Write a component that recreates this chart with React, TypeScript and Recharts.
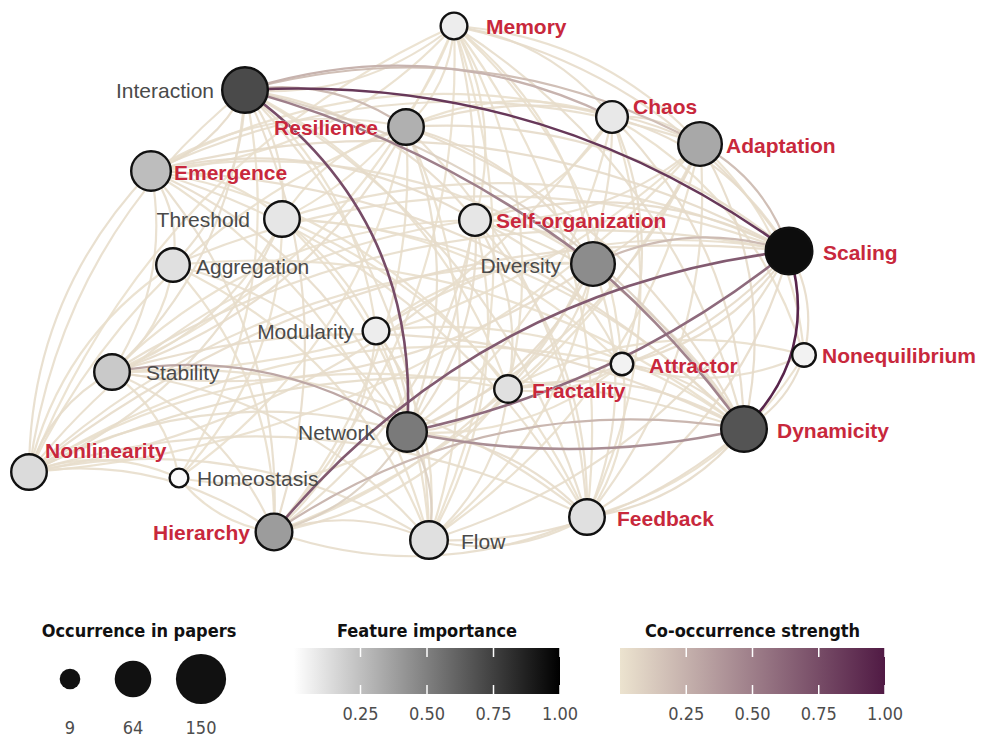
import { ScatterChart, Scatter, XAxis, YAxis } from "recharts";

// concept nodes (layout position, occurrence count, feature importance)
const nodeNames = [
  "Memory", "Interaction", "Chaos", "Resilience", "Adaptation", "Emergence",
  "Threshold", "Self-organization", "Scaling", "Diversity", "Aggregation",
  "Modularity", "Nonequilibrium", "Stability", "Attractor", "Fractality",
  "Network", "Dynamicity", "Nonlinearity", "Homeostasis", "Feedback",
  "Hierarchy", "Flow",
];
const nodeX = [454, 245, 612, 406, 700, 151, 282, 475, 789, 593, 173, 376, 804, 112, 622, 508, 407, 744, 29, 179, 587, 274, 429];
const nodeY = [26, 90, 117, 127, 144, 171, 219, 220, 251, 264, 265, 331, 355, 372, 364, 389, 432, 429, 472, 478, 517, 532, 540];
const occurrence = [32, 134, 52, 71, 120, 94, 71, 52, 141, 120, 61, 32, 22, 71, 19, 35, 94, 134, 71, 10, 71, 77, 82];
const importance = [0.07, 0.71, 0.09, 0.31, 0.34, 0.26, 0.1, 0.1, 0.95, 0.45, 0.12, 0.07, 0.05, 0.21, 0.05, 0.12, 0.52, 0.67, 0.14, 0.02, 0.12, 0.39, 0.12];
const keyFeature = [true, false, true, true, true, true, false, true, true, false, false, false, true, false, true, true, false, true, true, false, true, true, false];

// co-occurrence links: [from, to, strength]
const edges: [string, string, number][] = [
  ["Memory", "Interaction", 0.025], ["Memory", "Emergence", 0.02], ["Memory", "Chaos", 0.03],
  ["Memory", "Adaptation", 0.025], ["Memory", "Scaling", 0.035], ["Memory", "Resilience", 0.02],
  ["Memory", "Self-organization", 0.02], ["Memory", "Diversity", 0.02], ["Memory", "Network", 0.025],
  ["Memory", "Dynamicity", 0.03], ["Nonlinearity", "Memory", 0.015], ["Memory", "Stability", 0.015],
  ["Memory", "Feedback", 0.02], ["Memory", "Hierarchy", 0.015], ["Memory", "Flow", 0.015],
  ["Memory", "Threshold", 0.015], ["Memory", "Fractality", 0.02], ["Memory", "Attractor", 0.02],
  ["Interaction", "Emergence", 0.045], ["Interaction", "Adaptation", 0.18], ["Interaction", "Dynamicity", 0.1],
  ["Interaction", "Self-organization", 0.035], ["Interaction", "Threshold", 0.025], ["Interaction", "Aggregation", 0.025],
  ["Interaction", "Stability", 0.03], ["Nonlinearity", "Interaction", 0.025], ["Interaction", "Feedback", 0.03],
  ["Interaction", "Hierarchy", 0.035], ["Interaction", "Flow", 0.025], ["Interaction", "Modularity", 0.02],
  ["Interaction", "Fractality", 0.02], ["Interaction", "Homeostasis", 0.015],
  ["Chaos", "Adaptation", 0.03], ["Chaos", "Scaling", 0.035], ["Chaos", "Dynamicity", 0.035],
  ["Chaos", "Nonlinearity", 0.025], ["Emergence", "Chaos", 0.02], ["Chaos", "Attractor", 0.03],
  ["Chaos", "Fractality", 0.025], ["Chaos", "Self-organization", 0.02], ["Chaos", "Feedback", 0.02],
  ["Chaos", "Nonequilibrium", 0.02], ["Resilience", "Chaos", 0.02], ["Chaos", "Network", 0.02],
  ["Resilience", "Adaptation", 0.035], ["Resilience", "Scaling", 0.045], ["Resilience", "Stability", 0.035],
  ["Resilience", "Diversity", 0.035], ["Resilience", "Network", 0.03], ["Resilience", "Dynamicity", 0.035],
  ["Resilience", "Feedback", 0.025], ["Threshold", "Resilience", 0.02], ["Emergence", "Resilience", 0.025],
  ["Resilience", "Hierarchy", 0.02], ["Resilience", "Flow", 0.02], ["Resilience", "Homeostasis", 0.015],
  ["Nonlinearity", "Resilience", 0.02],
  ["Adaptation", "Dynamicity", 0.045], ["Adaptation", "Diversity", 0.035], ["Emergence", "Adaptation", 0.03],
  ["Adaptation", "Network", 0.03], ["Adaptation", "Self-organization", 0.03], ["Adaptation", "Feedback", 0.025],
  ["Adaptation", "Nonlinearity", 0.02], ["Adaptation", "Hierarchy", 0.02], ["Adaptation", "Nonequilibrium", 0.02],
  ["Adaptation", "Stability", 0.02], ["Adaptation", "Flow", 0.02],
  ["Emergence", "Self-organization", 0.045], ["Emergence", "Scaling", 0.045], ["Emergence", "Network", 0.035],
  ["Emergence", "Dynamicity", 0.035], ["Nonlinearity", "Emergence", 0.03], ["Emergence", "Stability", 0.025],
  ["Emergence", "Aggregation", 0.025], ["Emergence", "Hierarchy", 0.03], ["Emergence", "Threshold", 0.02],
  ["Emergence", "Diversity", 0.025], ["Emergence", "Feedback", 0.025], ["Emergence", "Flow", 0.02],
  ["Emergence", "Fractality", 0.02],
  ["Threshold", "Scaling", 0.025], ["Threshold", "Nonlinearity", 0.03], ["Threshold", "Stability", 0.025],
  ["Threshold", "Dynamicity", 0.025], ["Threshold", "Network", 0.02], ["Threshold", "Feedback", 0.02],
  ["Threshold", "Flow", 0.02], ["Threshold", "Attractor", 0.015], ["Threshold", "Homeostasis", 0.015],
  ["Self-organization", "Scaling", 0.045], ["Self-organization", "Network", 0.035], ["Self-organization", "Dynamicity", 0.04],
  ["Nonlinearity", "Self-organization", 0.025], ["Self-organization", "Fractality", 0.03], ["Self-organization", "Attractor", 0.025],
  ["Self-organization", "Diversity", 0.025], ["Self-organization", "Feedback", 0.025], ["Self-organization", "Hierarchy", 0.025],
  ["Self-organization", "Flow", 0.02], ["Stability", "Self-organization", 0.02],
  ["Scaling", "Fractality", 0.045], ["Scaling", "Attractor", 0.035], ["Scaling", "Nonequilibrium", 0.035],
  ["Nonlinearity", "Scaling", 0.035], ["Stability", "Scaling", 0.03], ["Scaling", "Feedback", 0.035],
  ["Scaling", "Flow", 0.03], ["Aggregation", "Scaling", 0.025], ["Modularity", "Scaling", 0.025],
  ["Diversity", "Network", 0.045], ["Diversity", "Stability", 0.035], ["Nonlinearity", "Diversity", 0.025],
  ["Diversity", "Feedback", 0.025], ["Diversity", "Hierarchy", 0.025], ["Diversity", "Flow", 0.02],
  ["Modularity", "Diversity", 0.02], ["Diversity", "Fractality", 0.025],
  ["Aggregation", "Network", 0.025], ["Nonlinearity", "Aggregation", 0.02], ["Aggregation", "Stability", 0.02],
  ["Aggregation", "Hierarchy", 0.02], ["Aggregation", "Flow", 0.02], ["Aggregation", "Dynamicity", 0.02],
  ["Modularity", "Network", 0.03], ["Modularity", "Hierarchy", 0.025], ["Modularity", "Flow", 0.02],
  ["Modularity", "Dynamicity", 0.02],
  ["Nonequilibrium", "Dynamicity", 0.045], ["Nonequilibrium", "Attractor", 0.025], ["Fractality", "Nonequilibrium", 0.02],
  ["Nonequilibrium", "Feedback", 0.02],
  ["Nonlinearity", "Stability", 0.03], ["Stability", "Dynamicity", 0.035], ["Stability", "Feedback", 0.025],
  ["Stability", "Hierarchy", 0.025], ["Stability", "Flow", 0.025], ["Stability", "Homeostasis", 0.02],
  ["Attractor", "Dynamicity", 0.035], ["Attractor", "Fractality", 0.025], ["Nonlinearity", "Attractor", 0.02],
  ["Attractor", "Feedback", 0.02], ["Attractor", "Network", 0.02],
  ["Fractality", "Network", 0.035], ["Fractality", "Dynamicity", 0.035], ["Fractality", "Hierarchy", 0.025],
  ["Fractality", "Flow", 0.025], ["Nonlinearity", "Fractality", 0.02],
  ["Network", "Hierarchy", 0.1], ["Network", "Feedback", 0.035], ["Nonlinearity", "Network", 0.03],
  ["Network", "Homeostasis", 0.02], ["Network", "Flow", 0.1],
  ["Nonlinearity", "Dynamicity", 0.04], ["Dynamicity", "Feedback", 0.045], ["Dynamicity", "Flow", 0.035],
  ["Nonlinearity", "Feedback", 0.03], ["Nonlinearity", "Hierarchy", 0.025], ["Nonlinearity", "Flow", 0.025],
  ["Nonlinearity", "Homeostasis", 0.02],
  ["Feedback", "Hierarchy", 0.03], ["Feedback", "Flow", 0.03],
  ["Hierarchy", "Flow", 0.035], ["Hierarchy", "Homeostasis", 0.02],
  // stronger links
  ["Interaction", "Chaos", 0.24], ["Interaction", "Resilience", 0.2], ["Diversity", "Scaling", 0.2],
  ["Adaptation", "Scaling", 0.18], ["Hierarchy", "Dynamicity", 0.22], ["Stability", "Network", 0.3],
  ["Dynamicity", "Network", 0.42], ["Diversity", "Dynamicity", 0.48], ["Interaction", "Diversity", 0.5],
  ["Scaling", "Network", 0.6], ["Hierarchy", "Scaling", 0.68], ["Interaction", "Network", 0.75],
  ["Interaction", "Scaling", 0.85], ["Scaling", "Dynamicity", 0.95],
];

const sizeBreaks = [9, 64, 150];
const scaleTicks = [0.25, 0.5, 0.75, 1.0];

// label offset from node centre [dx, dy]; negative dx = label on the left
const LABEL_POS: Record<string, [number, number]> = {
  Memory: [32, 0], Interaction: [-31, 0], Chaos: [21, -11], Resilience: [-28, 0],
  Adaptation: [26, 1], Emergence: [23, 1], Threshold: [-32, 0], "Self-organization": [21, 0],
  Scaling: [34, 1], Diversity: [-32, 1], Aggregation: [23, 1], Modularity: [-22, 0],
  Nonequilibrium: [18, 0], Stability: [34, 0], Attractor: [27, 1], Fractality: [24, 1],
  Network: [-32, 0], Dynamicity: [33, 1], Nonlinearity: [16, -22], Homeostasis: [18, 0],
  Feedback: [30, 1], Hierarchy: [-24, 0], Flow: [32, 1],
};

// arc curvature for the strong links (others use BEND)
const EDGE_BEND: Record<string, number> = {
  "Interaction|Diversity": 0.05,
  "Interaction|Scaling": 0.09,
  "Interaction|Network": 0.14,
  "Scaling|Dynamicity": 0.15,
  "Hierarchy|Scaling": 0.1,
  "Scaling|Network": 0.06,
  "Dynamicity|Network": 0.055,
  "Diversity|Dynamicity": 0.03,
};

const W = 983;
const NET_H = 590;
const BEND = 0.1;
const LABEL_FONT = "'Liberation Sans', Arial, sans-serif";
const LEGEND_FONT = "'DejaVu Sans Condensed', 'DejaVu Sans', sans-serif";
const RED = "#c8283c";

const radius = (occ: number) => 5.5 + 1.6 * Math.sqrt(occ);
const grayFill = (imp: number) => {
  const g = Math.round(255 * (1 - imp));
  return `rgb(${g},${g},${g})`;
};
const LOW = [236, 227, 207];
const HIGH = [80, 26, 68];
const edgeColor = (w: number) => {
  const c = LOW.map((l, i) => Math.round(l + (HIGH[i] - l) * w));
  return `rgb(${c[0]},${c[1]},${c[2]})`;
};

const nodes = nodeNames.map((name, i) => ({
  name,
  x: nodeX[i],
  y: nodeY[i],
  occ: occurrence[i],
  imp: importance[i],
  key: keyFeature[i],
}));

const sortedEdges = [...edges].sort((a, b) => a[2] - b[2]);
const edgePoints = sortedEdges.flatMap(([a, b, w]) => {
  const i = nodeNames.indexOf(a);
  const j = nodeNames.indexOf(b);
  return [
    { x: nodeX[i], y: nodeY[i], w },
    { x: nodeX[j], y: nodeY[j], w },
  ];
});

const renderEdges = (props: any) => {
  const pts = props.points || [];
  const out = [];
  for (let k = 0; k + 1 < pts.length; k += 2) {
    const p0 = pts[k];
    const p1 = pts[k + 1];
    const [a, b, w] = sortedEdges[k / 2];
    const bend = EDGE_BEND[`${a}|${b}`] ?? BEND;
    const dx = p1.x - p0.x;
    const dy = p1.y - p0.y;
    const qx = (p0.x + p1.x) / 2 + dy * bend * 2;
    const qy = (p0.y + p1.y) / 2 - dx * bend * 2;
    out.push(
      <path
        key={k}
        d={`M${p0.x},${p0.y}Q${qx},${qy} ${p1.x},${p1.y}`}
        fill="none"
        stroke={edgeColor(w)}
        strokeWidth={w > 0.3 ? 2.6 : 2.2}
        strokeOpacity={w > 0.15 ? 1 : 0.9}
      />
    );
  }
  return <g>{out}</g>;
};

const NodeShape = (props: any) => {
  const { cx, cy, payload } = props;
  return (
    <circle
      cx={cx}
      cy={cy}
      r={radius(payload.occ) - 1.2}
      fill={grayFill(payload.imp)}
      stroke="#111"
      strokeWidth={2.4}
    />
  );
};

const LabelShape = (props: any) => {
  const { cx, cy, payload } = props;
  const [dx, dy] = LABEL_POS[payload.name] || [20, 0];
  return (
    <text
      x={cx + dx}
      y={cy + dy}
      textAnchor={dx < 0 ? "end" : "start"}
      dominantBaseline="central"
      fontFamily={LABEL_FONT}
      fontSize={21}
      fontWeight={payload.key ? 700 : 400}
      fill={payload.key ? RED : "#4a4a4a"}
      stroke="#fff"
      strokeWidth={payload.key ? 0.6 : 0}
      paintOrder="stroke"
    >
      {payload.name}
    </text>
  );
};

function ColorBar({ id, x0, x1, from, to, title }: { id: string; x0: number; x1: number; from: string; to: string; title: string }) {
  const top = 58;
  const h = 46;
  return (
    <g>
      <defs>
        <linearGradient id={id} x1="0" x2="1" y1="0" y2="0">
          <stop offset="0%" stopColor={from} />
          <stop offset="100%" stopColor={to} />
        </linearGradient>
      </defs>
      <text x={(x0 + x1) / 2} y={40} textAnchor="middle" dominantBaseline="central" fontFamily={LEGEND_FONT} fontWeight={700} fontSize={18} fill="#111">
        {title}
      </text>
      <rect x={x0} y={top} width={x1 - x0} height={h} fill={`url(#${id})`} />
      {scaleTicks.map((t) => {
        const tx = x0 + (x1 - x0) * t;
        return (
          <g key={t}>
            <line x1={tx} x2={tx} y1={top} y2={top + 9} stroke="#fff" strokeWidth={1.5} />
            <line x1={tx} x2={tx} y1={top + h - 9} y2={top + h} stroke="#fff" strokeWidth={1.5} />
            <text x={tx} y={123} textAnchor="middle" dominantBaseline="central" fontFamily={LEGEND_FONT} fontSize={18} fill="#4d4d4d">
              {t.toFixed(2)}
            </text>
          </g>
        );
      })}
    </g>
  );
}

export default function App() {
  const sizeX = [70, 133, 201];
  return (
    <div style={{ position: "absolute", left: 0, top: 0, width: W, height: 736, background: "#fff" }}>
      <ScatterChart width={W} height={NET_H} margin={{ top: 0, right: 0, bottom: 0, left: 0 }}>
        <XAxis type="number" dataKey="x" domain={[0, W]} allowDataOverflow hide />
        <YAxis type="number" dataKey="y" domain={[0, NET_H]} reversed allowDataOverflow hide />
        <Scatter data={edgePoints} line={renderEdges} shape={() => <g />} isAnimationActive={false} />
        <Scatter data={nodes} shape={NodeShape} isAnimationActive={false} />
        <Scatter data={nodes} shape={LabelShape} isAnimationActive={false} />
      </ScatterChart>
      <svg width={W} height={146} style={{ position: "absolute", left: 0, top: NET_H }}>
        <text x={139} y={40} textAnchor="middle" dominantBaseline="central" fontFamily={LEGEND_FONT} fontWeight={700} fontSize={18} fill="#111">
          Occurrence in papers
        </text>
        {sizeBreaks.map((s, i) => (
          <g key={s}>
            <circle cx={sizeX[i]} cy={89} r={radius(s)} fill="#111" />
            <text x={sizeX[i]} y={137} textAnchor="middle" dominantBaseline="central" fontFamily={LEGEND_FONT} fontSize={18} fill="#4d4d4d">
              {s}
            </text>
          </g>
        ))}
        <ColorBar id="imp" x0={294} x1={560} from="#ffffff" to="#000000" title="Feature importance" />
        <ColorBar id="co" x0={620} x1={885} from="rgb(236,227,207)" to="rgb(80,26,68)" title="Co-occurrence strength" />
      </svg>
    </div>
  );
}
